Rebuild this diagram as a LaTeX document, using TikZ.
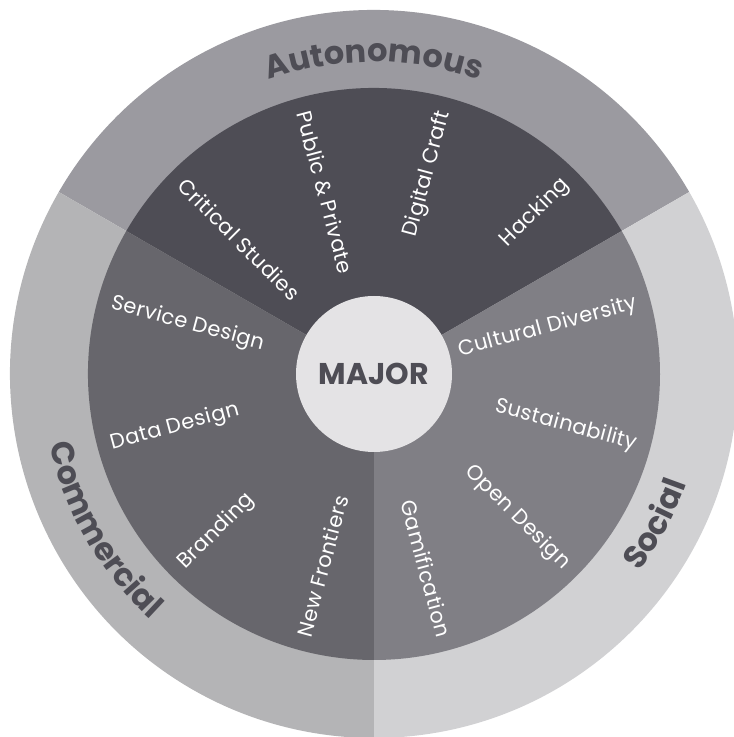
\documentclass[tikz,border=0pt]{standalone}
\usepackage{fontspec}
\newfontfamily\pop{Poppins}
\newfontfamily\popls[LetterSpace=2]{Poppins}
\usetikzlibrary{calc,decorations.text}
\definecolor{ringA}{HTML}{9B9AA0}
\definecolor{ringC}{HTML}{B4B4B6}
\definecolor{ringS}{HTML}{D1D1D3}
\definecolor{inA}{HTML}{4E4D55}
\definecolor{inC}{HTML}{67666C}
\definecolor{inS}{HTML}{807F85}
\definecolor{hub}{HTML}{E4E3E5}
\definecolor{ink}{HTML}{4E4D55}
\newcommand{\ringfont}{\pop\bfseries\fontsize{32}{32}\selectfont}
\begin{document}
\begin{tikzpicture}[x=1pt,y=1pt,
  lab/.style={text=white, font=\popls\fontsize{21}{21}\selectfont, inner sep=0pt},
  outlab/.style={lab, anchor=east},
  inlab/.style={lab, anchor=west},
  hubnode/.style={circle, fill=hub, minimum size=156pt, inner sep=0pt, text=ink, font=\pop\bfseries\fontsize{30}{30}\selectfont},
  ringtext/.style={decorate, decoration={text along path, text align=center, text color=ink}}
]
\useasboundingbox (0,0) rectangle (734,737);
\clip (0,0) rectangle (734,737);
\coordinate (C) at (374,363);
% outer ring
\fill[ringA] (C) -- ++(30:364pt) arc[start angle=30,end angle=150,radius=364pt] -- cycle;
\fill[ringC] (C) -- ++(150:364pt) arc[start angle=150,end angle=270,radius=364pt] -- cycle;
\fill[ringS] (C) -- ++(270:364pt) arc[start angle=270,end angle=390,radius=364pt] -- cycle;
% inner sectors
\fill[inA] (C) -- ++(30:286pt) arc[start angle=30,end angle=150,radius=286pt] -- cycle;
\fill[inC] (C) -- ++(150:286pt) arc[start angle=150,end angle=270,radius=286pt] -- cycle;
\fill[inS] (C) -- ++(270:286pt) arc[start angle=270,end angle=390,radius=286pt] -- cycle;
% hub
\node[hubnode] (major) at (C) {MAJOR};
% ring titles
\path[ringtext, decoration={text={|\ringfont|Autonomous}}] ($(C)+(130:312pt)$) arc[start angle=130,end angle=50,radius=312pt];
\path[ringtext, decoration={text={|\ringfont|Commercial}}] ($(C)+(186:332pt)$) arc[start angle=186,end angle=234,radius=332pt];
\path[ringtext, decoration={text={|\ringfont|Social}}] ($(C)+(-50:331pt)$) arc[start angle=-50,end angle=-6,radius=331pt];
% autonomous items
\node[inlab, rotate=-45] (critical) at ($(C)+(135:272pt)$) {Critical Studies};
\node[inlab, rotate=-75] (public) at ($(C)+(105:272pt)$) {Public \& Private};
\node[outlab, rotate=75] (digital) at ($(C)+(75:272pt)$) {Digital Craft};
\node[outlab, rotate=45] (hacking) at ($(C)+(45:272pt)$) {Hacking};
% social items
\node[outlab, rotate=15] (cultural) at ($(C)+(15:272pt)$) {Cultural Diversity};
\node[outlab, rotate=-15] (sustain) at ($(C)+(-15:272pt)$) {Sustainability};
\node[outlab, rotate=-45] (open) at ($(C)+(-45:272pt)$) {Open Design};
\node[outlab, rotate=-75] (gamif) at ($(C)+(-75:272pt)$) {Gamification};
% commercial items
\node[inlab, rotate=-15] (service) at ($(C)+(165:272pt)$) {Service Design};
\node[inlab, rotate=15] (data) at ($(C)+(195:272pt)$) {Data Design};
\node[inlab, rotate=45] (branding) at ($(C)+(225:272pt)$) {Branding};
\node[inlab, rotate=75] (frontiers) at ($(C)+(255:272pt)$) {New Frontiers};
\end{tikzpicture}
\end{document}
